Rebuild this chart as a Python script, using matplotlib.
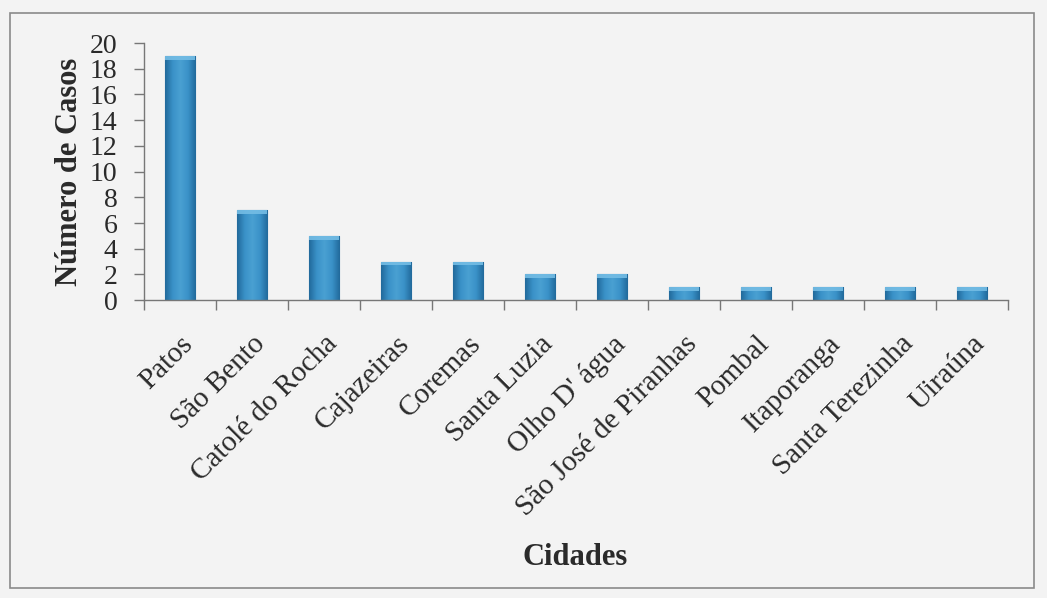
import matplotlib
matplotlib.use("Agg")
import matplotlib.pyplot as plt
import numpy as np
from matplotlib.patches import Rectangle
from matplotlib.colors import LinearSegmentedColormap

cidades = ['Patos', 'São Bento', 'Catolé do Rocha', 'Cajazeiras', 'Coremas',
           'Santa Luzia', "Olho D' água", 'São José de Piranhas', 'Pombal',
           'Itaporanga', 'Santa Terezinha', 'Uiraúna']
casos = [19, 7, 5, 3, 3, 2, 2, 1, 1, 1, 1, 1]
yticks = [0, 2, 4, 6, 8, 10, 12, 14, 16, 18, 20]

plt.rcParams['font.family'] = ['Liberation Serif', 'DejaVu Serif']
txt = '#2a2a2a'

fig = plt.figure(figsize=(10.47, 5.98), dpi=100)
fig.patch.set_facecolor('#f3f3f3')
# outer frame of the chart area
fig.add_artist(Rectangle((0.010, 0.017), 0.978, 0.962, transform=fig.transFigure,
                         fill=False, edgecolor='#8a8a8a', linewidth=1.2))

ax = fig.add_axes([0.1375, 0.498, 0.825, 0.43])
ax.set_facecolor('#f3f3f3')

x = np.arange(len(cidades))
bars = ax.bar(x, casos, width=0.42, color='#2f82b8', edgecolor='#24699a',
              linewidth=0.8, zorder=2)

# cylinder-like shading on each bar
shade = LinearSegmentedColormap.from_list('shade', ['#226a9c', '#3a92c8', '#4aa0d2', '#3a92c8', '#226a9c'])
grad = np.linspace(0, 1, 50)[None, :]
for b in bars:
    x0, w, h = b.get_x(), b.get_width(), b.get_height()
    im = ax.imshow(grad, cmap=shade, aspect='auto', extent=(x0, x0 + w, 0, h),
                   zorder=2.5, interpolation='bicubic')
    im.set_clip_path(b)
    ax.add_patch(Rectangle((x0, h - 0.3), w, 0.3, facecolor='#74bde5',
                           edgecolor='none', alpha=0.9, zorder=3))

ax.set_xlim(-0.5, len(cidades) - 0.5)
ax.set_ylim(0, 20)
ax.set_yticks(yticks)
ax.tick_params(axis='y', labelsize=20, length=7, width=1, color='#777777',
               labelcolor=txt, pad=12)
ax.set_xticks(x)
ax.set_xticklabels(cidades, rotation=45, ha='right', rotation_mode='anchor',
                   fontsize=21, color=txt)
ax.tick_params(axis='x', length=0, pad=22)
ax.set_xticks(np.arange(len(cidades) + 1) - 0.5, minor=True)
ax.tick_params(axis='x', which='minor', length=7, width=1, color='#777777')

for s in ['top', 'right']:
    ax.spines[s].set_visible(False)
for s in ['left', 'bottom']:
    ax.spines[s].set_color('#777777')
    ax.spines[s].set_linewidth(1)

ax.set_ylabel('Número de Casos', fontsize=22, fontweight='bold', labelpad=4, color=txt)
fig.text(0.549, 0.068, 'Cidades', fontsize=22, fontweight='bold', ha='center',
         va='center', color=txt)

fig.savefig('out.png', dpi=100, facecolor=fig.get_facecolor())
